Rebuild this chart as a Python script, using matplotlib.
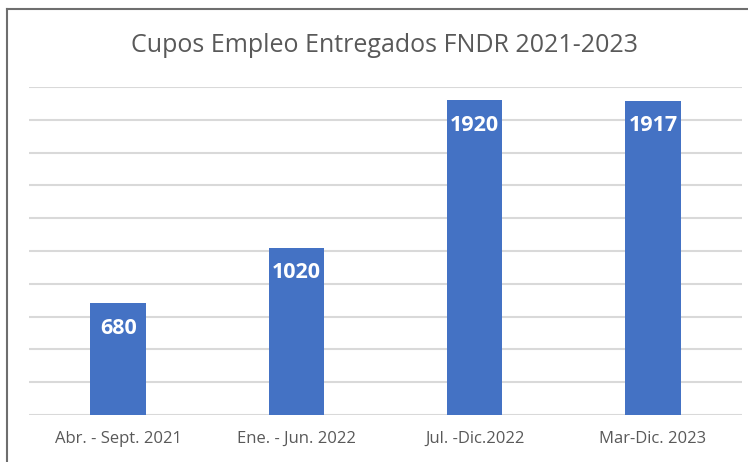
import matplotlib.pyplot as plt
from matplotlib.lines import Line2D

# datos del gráfico
periodos = ["Abr. - Sept. 2021", "Ene. - Jun. 2022", "Jul. -Dic.2022", "Mar-Dic. 2023"]
cupos = [680, 1020, 1920, 1917]

W, H = 748, 462
fig = plt.figure(figsize=(W / 100, H / 100), dpi=100)
fig.patch.set_facecolor("white")

# marco de la captura (solo lados izquierdo y superior visibles)
fig.add_artist(Line2D([7 / W, 7 / W], [0, 1 - 9 / H], color="#6e6e6e", lw=1.5, transform=fig.transFigure))
fig.add_artist(Line2D([7 / W, 1], [1 - 9 / H, 1 - 9 / H], color="#6e6e6e", lw=1.5, transform=fig.transFigure))

ax = fig.add_axes([29 / W, 1 - 415 / H, 713 / W, 328 / H])
x = range(len(periodos))
bars = ax.bar(x, cupos, width=0.31, color="#4472C4", zorder=3)

ax.set_ylim(0, 2000)
ax.set_xlim(-0.5, len(periodos) - 0.5)
ax.set_yticks(range(0, 2001, 200))
ax.yaxis.grid(True, color="#d9d9d9", lw=1.5, zorder=0)
ax.tick_params(axis="y", left=False, labelleft=False)
ax.tick_params(axis="x", bottom=False, pad=8)
ax.set_xticks(list(x))
ax.set_xticklabels(periodos, fontsize=12, color="#595959", family="Open Sans")
for s in ax.spines.values():
    s.set_visible(False)

for b, v in zip(bars, cupos):
    ax.annotate(str(v), (b.get_x() + b.get_width() / 2, v), xytext=(0, -18),
                textcoords="offset points", ha="center", va="center",
                color="white", fontsize=15.5, fontweight="bold", family="Open Sans")

fig.text(385 / W, 1 - 45 / H, "Cupos Empleo Entregados FNDR 2021-2023",
         ha="center", va="center", fontsize=18, color="#595959", family="Open Sans")

fig.savefig("out.png", dpi=100)
